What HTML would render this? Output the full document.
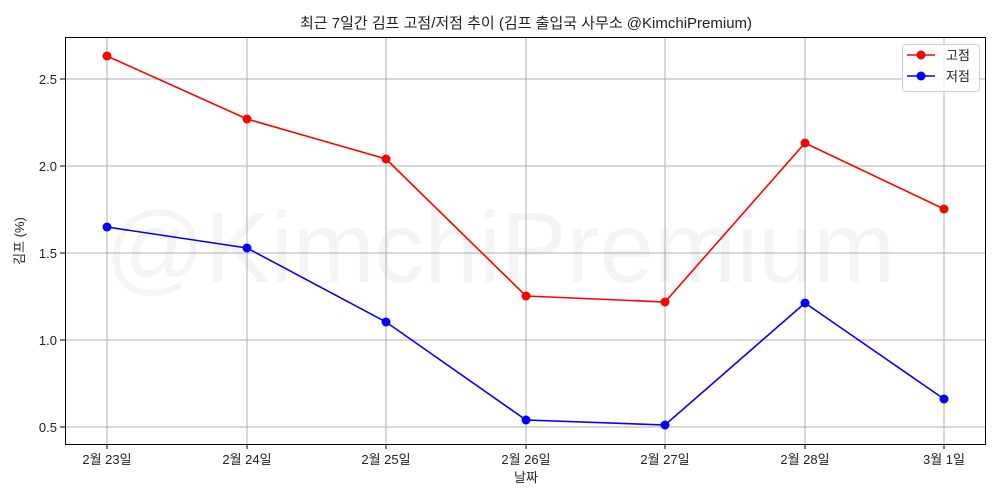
<!DOCTYPE html><html><head><meta charset="utf-8"><style>body{margin:0;background:#fff}svg{display:block}text{font-family:"Liberation Sans","Noto Sans CJK KR",sans-serif;fill:#222}</style></head><body>
<svg width="1000" height="500" xmlns="http://www.w3.org/2000/svg">
<text x="500" y="282" font-size="100" text-anchor="middle" textLength="790" lengthAdjust="spacingAndGlyphs" style="fill:#000;fill-opacity:0.045;font-weight:300">@KimchiPremium</text>
<g stroke="#b0b0b0" stroke-width="1">
<line x1="107" y1="37" x2="107" y2="444"/><line x1="247" y1="37" x2="247" y2="444"/><line x1="386" y1="37" x2="386" y2="444"/><line x1="526" y1="37" x2="526" y2="444"/><line x1="665" y1="37" x2="665" y2="444"/><line x1="805" y1="37" x2="805" y2="444"/><line x1="944" y1="37" x2="944" y2="444"/>
<line x1="65" y1="79" x2="986" y2="79"/><line x1="65" y1="166" x2="986" y2="166"/><line x1="65" y1="253" x2="986" y2="253"/><line x1="65" y1="340" x2="986" y2="340"/><line x1="65" y1="427" x2="986" y2="427"/>
</g>
<rect x="65.5" y="37.5" width="920" height="407" fill="none" stroke="#000" stroke-width="1"/>
<g stroke="#000"><line x1="107" y1="444" x2="107" y2="449"/><line x1="247" y1="444" x2="247" y2="449"/><line x1="386" y1="444" x2="386" y2="449"/><line x1="526" y1="444" x2="526" y2="449"/><line x1="665" y1="444" x2="665" y2="449"/><line x1="805" y1="444" x2="805" y2="449"/><line x1="944" y1="444" x2="944" y2="449"/>
<line x1="60" y1="79" x2="65" y2="79"/><line x1="60" y1="166" x2="65" y2="166"/><line x1="60" y1="253" x2="65" y2="253"/><line x1="60" y1="340" x2="65" y2="340"/><line x1="60" y1="427" x2="65" y2="427"/></g>
<g font-size="13" text-anchor="middle"><text x="107" y="464">2월 23일</text><text x="247" y="464">2월 24일</text><text x="386" y="464">2월 25일</text><text x="526" y="464">2월 26일</text><text x="665" y="464">2월 27일</text><text x="805" y="464">2월 28일</text><text x="944" y="464">3월 1일</text></g>
<g font-size="13" text-anchor="end"><text x="57" y="84">2.5</text><text x="57" y="171">2.0</text><text x="57" y="258">1.5</text><text x="57" y="345">1.0</text><text x="57" y="432">0.5</text></g>
<text x="526" y="482" font-size="13" text-anchor="middle">날짜</text>
<text transform="translate(24,241) rotate(-90)" font-size="13" text-anchor="middle">김프 (%)</text>
<text x="526" y="28" font-size="15" text-anchor="middle">최근 7일간 김프 고점/저점 추이 (김프 출입국 사무소 @KimchiPremium)</text>
<polyline fill="none" stroke="#f00" stroke-width="1.6" points="107,56 247,119 386,159 526,296 665,302 805,143 944,209"/>
<g fill="#f00"><circle cx="107" cy="56" r="4.5"/><circle cx="247" cy="119" r="4.5"/><circle cx="386" cy="159" r="4.5"/><circle cx="526" cy="296" r="4.5"/><circle cx="665" cy="302" r="4.5"/><circle cx="805" cy="143" r="4.5"/><circle cx="944" cy="209" r="4.5"/></g>
<polyline fill="none" stroke="#00f" stroke-width="1.6" points="107,227 247,248 386,322 526,420 665,425 805,303 944,399"/>
<g fill="#00f"><circle cx="107" cy="227" r="4.5"/><circle cx="247" cy="248" r="4.5"/><circle cx="386" cy="322" r="4.5"/><circle cx="526" cy="420" r="4.5"/><circle cx="665" cy="425" r="4.5"/><circle cx="805" cy="303" r="4.5"/><circle cx="944" cy="399" r="4.5"/></g>
<rect x="902.5" y="44.5" width="77" height="47" rx="3" fill="#fff" fill-opacity="0.8" stroke="#ccc"/>
<line x1="907" y1="55" x2="935" y2="55" stroke="#f00" stroke-width="1.6"/><circle cx="921" cy="55" r="4.5" fill="#f00"/>
<line x1="907" y1="76" x2="935" y2="76" stroke="#00f" stroke-width="1.6"/><circle cx="921" cy="76" r="4.5" fill="#00f"/>
<text x="946" y="60" font-size="13">고점</text><text x="946" y="81" font-size="13">저점</text>
</svg></body></html>
